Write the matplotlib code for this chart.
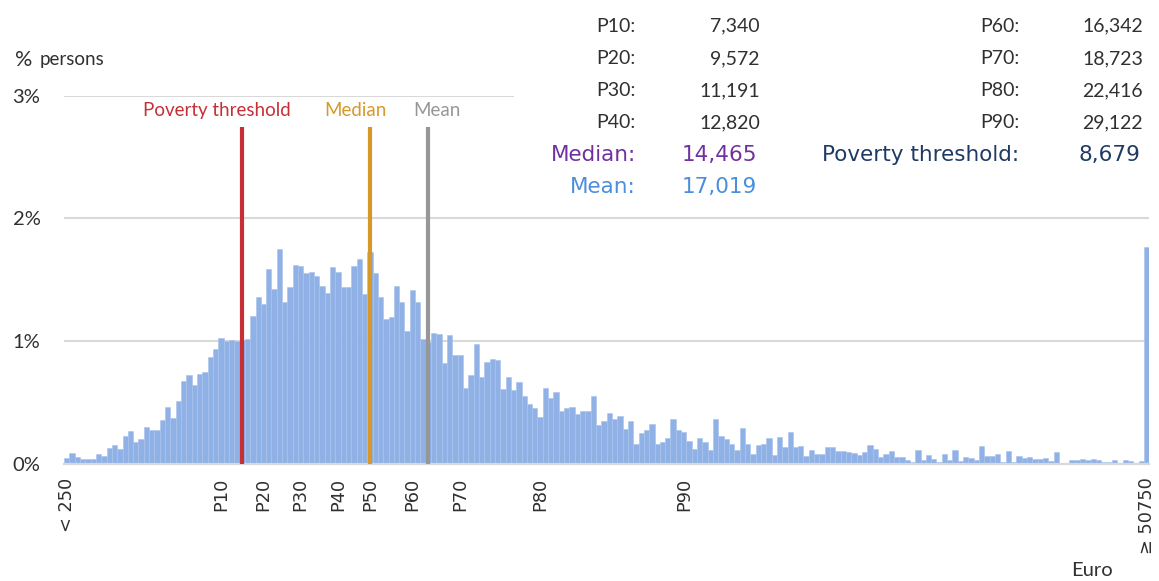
import matplotlib
matplotlib.use("Agg")
import numpy as np
import matplotlib.pyplot as plt

# share of persons (%) per 250-euro income bin, from "< 250" up to ">= 50750"
shares = [
    0.043, 0.084, 0.054, 0.037, 0.035, 0.040, 0.078, 0.066, 0.127, 0.152,
    0.122, 0.222, 0.263, 0.174, 0.198, 0.300, 0.277, 0.277, 0.356, 0.459,
    0.369, 0.508, 0.671, 0.722, 0.638, 0.733, 0.749, 0.872, 0.932, 1.022,
    1.000, 1.010, 1.000, 1.010, 1.016, 1.203, 1.356, 1.299, 1.584, 1.424,
    1.747, 1.320, 1.440, 1.619, 1.611, 1.551, 1.562, 1.530, 1.448, 1.388,
    1.603, 1.562, 1.443, 1.440, 1.609, 1.668, 1.386, 1.725, 1.554, 1.356,
    1.179, 1.195, 1.446, 1.315, 1.081, 1.415, 1.320, 1.013, 0.994, 1.065,
    1.057, 0.818, 1.046, 0.888, 0.888, 0.614, 0.720, 0.975, 0.703, 0.826,
    0.850, 0.848, 0.608, 0.703, 0.603, 0.665, 0.548, 0.488, 0.451, 0.383,
    0.614, 0.532, 0.584, 0.429, 0.453, 0.464, 0.404, 0.431, 0.429, 0.548,
    0.317, 0.347, 0.413, 0.361, 0.385, 0.282, 0.350, 0.160, 0.247, 0.277,
    0.325, 0.160, 0.176, 0.211, 0.361, 0.277, 0.260, 0.182, 0.117, 0.211,
    0.179, 0.111, 0.366, 0.228, 0.198, 0.157, 0.108, 0.288, 0.160, 0.078,
    0.155, 0.157, 0.206, 0.068, 0.214, 0.135, 0.255, 0.135, 0.141, 0.065,
    0.114, 0.081, 0.076, 0.133, 0.135, 0.100, 0.105, 0.092, 0.084, 0.070,
    0.095, 0.152, 0.117, 0.051, 0.078, 0.105, 0.056, 0.056, 0.029, 0.013,
    0.108, 0.029, 0.070, 0.040, 0.013, 0.078, 0.026, 0.111, 0.019, 0.056,
    0.048, 0.029, 0.143, 0.062, 0.062, 0.078, 0.016, 0.100, 0.013, 0.059,
    0.043, 0.056, 0.037, 0.037, 0.048, 0.021, 0.097, 0.005, 0.005, 0.030,
    0.030, 0.035, 0.030, 0.037, 0.027, 0.016, 0.016, 0.027, 0.008, 0.030,
    0.021, 0.008, 0.021, 1.764,
]

# x tick labels and the bin they sit on
tick_labels = ['< 250', 'P10', 'P20', 'P30', 'P40', 'P50', 'P60', 'P70',
               'P80', 'P90', '\u2265 50750']
tick_bins = [0, 29, 37, 44, 51, 57, 65, 74, 89, 116, 203]

# reference lines (bin position as drawn)
marker_names = ['Poverty threshold', 'Median', 'Mean']
marker_bins = [33, 57, 68]
marker_colors = ['#C62F36', '#D7982A', '#979797']
marker_label_x = [28.3, 54.2, 69.6]

# statistics table
left_names = ['P10:', 'P20:', 'P30:', 'P40:']
left_values = ['7,340', '9,572', '11,191', '12,820']
right_names = ['P60:', 'P70:', 'P80:', 'P90:']
right_values = ['16,342', '18,723', '22,416', '29,122']

W, H = 1159, 581
BAR_COLOR = '#8FB1E6'
GRID_COLOR = '#D9D9D9'
TEXT_COLOR = '#303030'


def fx(px):
    return px / W


def fy(py):
    return 1 - py / H


fig = plt.figure(figsize=(W / 100, H / 100), dpi=100)
ax = fig.add_axes([fx(64), fy(463.6), (1149.3 - 64) / W, (463.6 - 95.7) / H])

x = np.arange(len(shares))
ax.bar(x, shares, width=1.0, color=BAR_COLOR, edgecolor='#A9C3EC',
       linewidth=0.4, zorder=2)

ax.set_xlim(-0.5, len(shares) - 0.5)
ax.set_ylim(0, 3)

# gridlines, the top one is hidden behind the table on the right
for v in [1, 2]:
    ax.axhline(v, color=GRID_COLOR, lw=1.5, zorder=1)
ax.axhline(3, xmax=(513 - 64) / (1149.3 - 64), color=GRID_COLOR, lw=1.5,
           zorder=1)

for s in ['top', 'right', 'left']:
    ax.spines[s].set_visible(False)
ax.spines['bottom'].set_color(GRID_COLOR)
ax.spines['bottom'].set_linewidth(1.6)

ax.set_yticks([0, 1, 2, 3])
ax.set_yticklabels(['0%', '1%', '2%', '3%'], fontsize=14.5, family='Lato',
                   color=TEXT_COLOR)
ax.tick_params(axis='y', length=0, pad=17)

ax.set_xticks(tick_bins)
ax.set_xticklabels(tick_labels, rotation=90, fontsize=12.8,
                   family='DejaVu Sans', color=TEXT_COLOR)
ax.tick_params(axis='x', length=0, pad=10)

# reference lines with their labels
for name, b, c, lx in zip(marker_names, marker_bins, marker_colors,
                          marker_label_x):
    ax.vlines(b, 0, 2.744, color=c, lw=3, zorder=3)
    ax.text(lx, 2.883, name, color=c, ha='center', va='center',
            fontsize=13.5, family='Lato')

# statistics table
row_y = [26, 58.5, 91, 122.5]
for i in range(4):
    fig.text(fx(636), fy(row_y[i]), left_names[i], ha='right', va='center',
             fontsize=14, family='Lato', color=TEXT_COLOR)
    fig.text(fx(760), fy(row_y[i]), left_values[i], ha='right', va='center',
             fontsize=14, family='Lato', color=TEXT_COLOR)
    fig.text(fx(1020), fy(row_y[i]), right_names[i], ha='right', va='center',
             fontsize=14, family='Lato', color=TEXT_COLOR)
    fig.text(fx(1143), fy(row_y[i]), right_values[i], ha='right', va='center',
             fontsize=14, family='Lato', color=TEXT_COLOR)

stat_size = 15.5
fig.text(fx(636), fy(155), 'Median:', ha='right', va='center',
         fontsize=stat_size, family='DejaVu Sans', color='#7030A0')
fig.text(fx(757), fy(155), '14,465', ha='right', va='center',
         fontsize=stat_size, family='DejaVu Sans', color='#7030A0')
fig.text(fx(636), fy(187), 'Mean:', ha='right', va='center',
         fontsize=stat_size, family='DejaVu Sans', color='#4A8EDC')
fig.text(fx(757), fy(187), '17,019', ha='right', va='center',
         fontsize=stat_size, family='DejaVu Sans', color='#4A8EDC')
fig.text(fx(1019), fy(155), 'Poverty threshold:', ha='right', va='center',
         fontsize=stat_size, family='DejaVu Sans', color='#1F3A64')
fig.text(fx(1140), fy(155), '8,679', ha='right', va='center',
         fontsize=stat_size, family='DejaVu Sans', color='#1F3A64')

# axis captions
fig.text(fx(15), fy(60), '%', ha='left', va='center', fontsize=15.5,
         family='Lato', color=TEXT_COLOR)
fig.text(fx(40), fy(60), 'persons', ha='left', va='center', fontsize=13.5,
         family='Lato', color=TEXT_COLOR)
fig.text(fx(1113), fy(571), 'Euro', ha='right', va='center', fontsize=14.5,
         family='Lato', color=TEXT_COLOR)

fig.savefig('out.png', dpi=100, facecolor='white')
